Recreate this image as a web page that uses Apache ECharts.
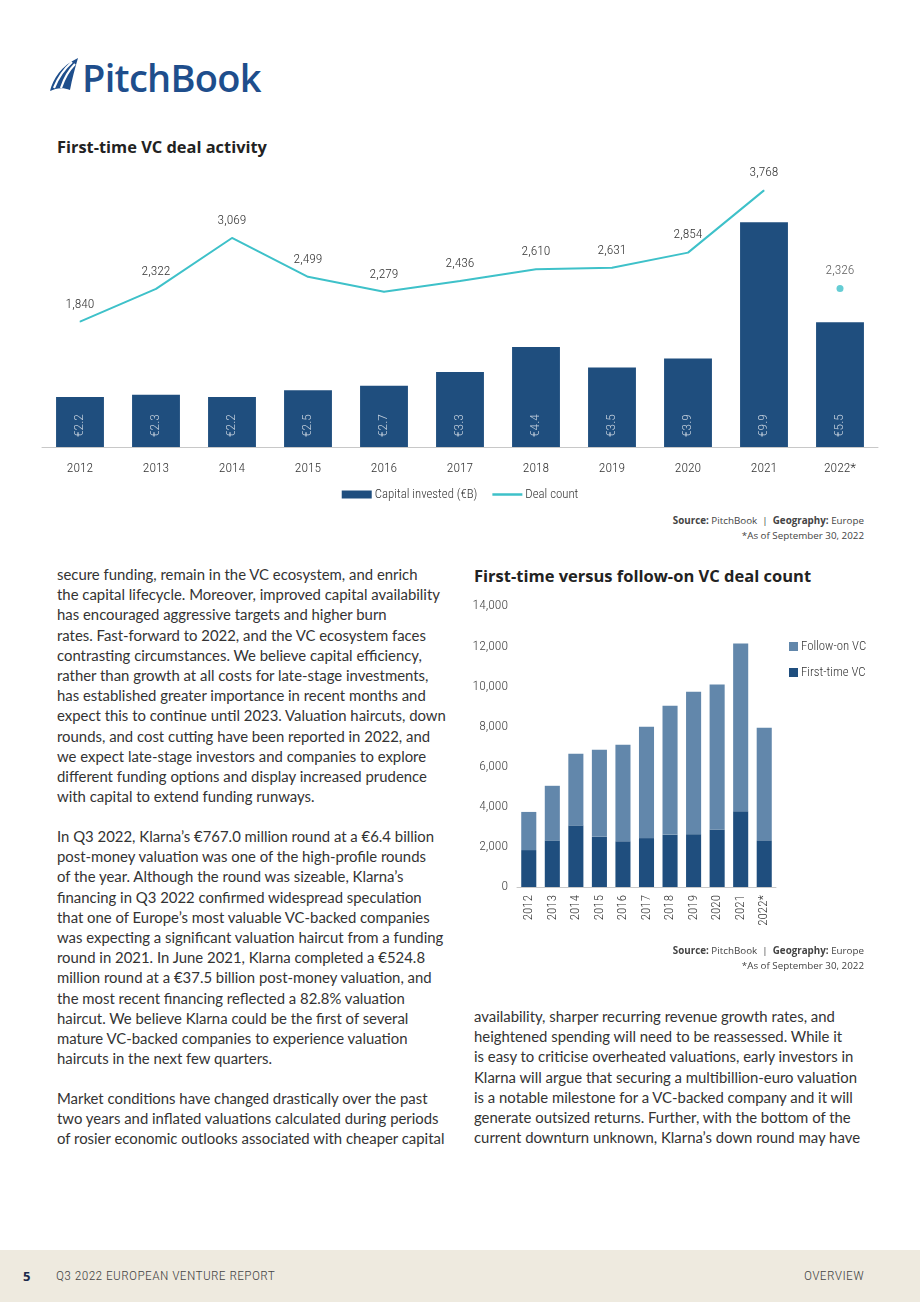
<!DOCTYPE html>
<html><head><meta charset="utf-8">
<script src="https://cdn.jsdelivr.net/npm/echarts@6/dist/echarts.min.js"></script>
<style>
html,body{margin:0;padding:0;background:#fff;}
body{width:920px;height:1302px;position:relative;overflow:hidden;font-family:Lato,"Open Sans",sans-serif;color:#333;}
.abs{position:absolute;}
.col{position:absolute;font-size:14.9px;line-height:20.18px;white-space:nowrap;color:#333;}
.src{position:absolute;right:56px;font-size:9.8px;color:#444;text-align:right;line-height:15px;font-family:"Open Sans",sans-serif;}
.title{position:absolute;font-weight:bold;color:#222;font-family:"Open Sans",sans-serif;white-space:nowrap;}
#footer{position:absolute;left:0;top:1250px;width:920px;height:52px;background:#eeeadf;}
.ft{position:absolute;top:17px;font-size:13.6px;letter-spacing:0.35px;font-weight:300;color:#444;font-family:"Roboto Condensed",Roboto,sans-serif;}
</style></head>
<body>
<svg class="abs" style="left:48px;top:57px" width="34" height="36" viewBox="0 0 34 36">
  <path d="M2 34 C5 22 13 9 30 1 C27 11 24 22 22 33 C15 30 8 31 2 34 Z" fill="#1e4e8c"/>
  <path d="M6 31 C10 21 16 12 24 5" stroke="#fff" stroke-width="2.2" fill="none"/>
  <path d="M13 31 C16 22 20 14 27 7" stroke="#fff" stroke-width="2.2" fill="none"/>
</svg>
<div class="abs" style="left:82px;top:51px;font-family:'Open Sans',sans-serif;font-size:38px;font-weight:600;color:#1e4e8c;letter-spacing:-0.7px;">PitchBook</div>

<div class="title" style="left:57px;top:135px;font-size:16.4px;">First-time VC deal activity</div>
<div id="c1" class="abs" style="left:0;top:0;width:920px;height:510px;"></div>
<div class="src" style="top:513px;"><b>Source:</b> PitchBook &nbsp;|&nbsp; <b>Geography:</b> Europe<br>*As of September 30, 2022</div>

<div class="col" style="left:57px;top:564px;">secure funding, remain in the VC ecosystem, and enrich<br>the capital lifecycle. Moreover, improved capital availability<br>has encouraged aggressive targets and higher burn<br>rates. Fast-forward to 2022, and the VC ecosystem faces<br>contrasting circumstances. We believe capital efficiency,<br>rather than growth at all costs for late-stage investments,<br>has established greater importance in recent months and<br>expect this to continue until 2023. Valuation haircuts, down<br>rounds, and cost cutting have been reported in 2022, and<br>we expect late-stage investors and companies to explore<br>different funding options and display increased prudence<br>with capital to extend funding runways.</div>
<div class="col" style="left:57px;top:826px;">In Q3 2022, Klarna’s €767.0 million round at a €6.4 billion<br>post-money valuation was one of the high-profile rounds<br>of the year. Although the round was sizeable, Klarna’s<br>financing in Q3 2022 confirmed widespread speculation<br>that one of Europe’s most valuable VC-backed companies<br>was expecting a significant valuation haircut from a funding<br>round in 2021. In June 2021, Klarna completed a €524.8<br>million round at a €37.5 billion post-money valuation, and<br>the most recent financing reflected a 82.8% valuation<br>haircut. We believe Klarna could be the first of several<br>mature VC-backed companies to experience valuation<br>haircuts in the next few quarters.</div>
<div class="col" style="left:57px;top:1088px;">Market conditions have changed drastically over the past<br>two years and inflated valuations calculated during periods<br>of rosier economic outlooks associated with cheaper capital</div>
<div class="col" style="left:474px;top:1006px;">availability, sharper recurring revenue growth rates, and<br>heightened spending will need to be reassessed. While it<br>is easy to criticise overheated valuations, early investors in<br>Klarna will argue that securing a multibillion-euro valuation<br>is a notable milestone for a VC-backed company and it will<br>generate outsized returns. Further, with the bottom of the<br>current downturn unknown, Klarna’s down round may have</div>

<div class="title" style="left:474px;top:564px;font-size:16.5px;">First-time versus follow-on VC deal count</div>
<div id="c2" class="abs" style="left:460px;top:560px;width:460px;height:400px;"></div>
<div class="src" style="top:943px;"><b>Source:</b> PitchBook &nbsp;|&nbsp; <b>Geography:</b> Europe<br>*As of September 30, 2022</div>

<div id="footer">
  <div class="abs" style="left:23px;top:17px;font-size:13px;font-weight:bold;color:#1b2a4a;font-family:'Open Sans',sans-serif;">5</div>
  <div class="ft" style="left:56px;">Q3 2022 EUROPEAN VENTURE REPORT</div>
  <div class="ft" style="right:56px;">OVERVIEW</div>
</div>

<script>
// ---- data ----
const years = ['2012','2013','2014','2015','2016','2017','2018','2019','2020','2021','2022*'];
const capitalInvested = [2.2, 2.3, 2.2, 2.5, 2.7, 3.3, 4.4, 3.5, 3.9, 9.9, 5.5];
const dealCountLine = [1840, 2322, 3069, 2499, 2279, 2436, 2610, 2631, 2854, 3768, null];
const dealCount2022 = [null, null, null, null, null, null, null, null, null, null, 2326];
const firstTimeVC = [1840, 2322, 3069, 2499, 2279, 2436, 2610, 2631, 2854, 3768, 2326];
const followOnVC = [1900, 2720, 3570, 4340, 4810, 5550, 6420, 7100, 7230, 8360, 5610];

const FONT = '"Roboto Condensed", Roboto, sans-serif';
const FW = 300;
const navy = '#1f4e7e', teal = '#3ec1c9', steel = '#6287ab';
const fmt = v => v.toLocaleString('en-US');
const ts = (size, color) => ({fontFamily:FONT, fontWeight:FW, fontSize:size, color:color});

function render(){
const c1 = echarts.init(document.getElementById('c1'), null, {renderer:'canvas'});
c1.setOption({
  animation:false,
  textStyle:{fontFamily:FONT, fontWeight:FW},
  grid:{left:42, right:42, top:140.5, bottom:63},
  legend:{
    bottom:4, left:'center', itemGap:15, itemWidth:30, itemHeight:8,
    textStyle:Object.assign(ts(12.8,'#333'), {padding:[0,0,0,-2]}),
    data:[{name:'Capital invested (€B)', icon:'rect'},
          {name:'Deal count', icon:'path://M0,0 L30,0 L30,2.5 L0,2.5 Z', itemStyle:{color:teal}}]
  },
  xAxis:{type:'category', data:years,
    axisLine:{lineStyle:{color:'#c8c8c8', width:1}}, axisTick:{show:false},
    axisLabel:Object.assign(ts(13.5,'#333'), {margin:15})},
  yAxis:[
    {type:'value', min:0, max:13.5, show:false, splitLine:{show:false}},
    {type:'value', min:0, max:4500, show:false, splitLine:{show:false}}
  ],
  series:[
    {name:'Capital invested (€B)', type:'bar', data:capitalInvested, barWidth:'63%',
      itemStyle:{color:navy},
      label:Object.assign(ts(13.5,'#c3cfdc'), {show:true, position:'insideBottom', rotate:90, align:'left', verticalAlign:'middle', distance:10,
        formatter:p=>'€'+p.value.toFixed(1)})},
    {name:'Deal count', type:'line', yAxisIndex:1, data:dealCountLine, symbol:'circle', symbolSize:1, showSymbol:true, connectNulls:false,
      lineStyle:{color:teal, width:2}, itemStyle:{color:teal},
      label:Object.assign(ts(13.5,'#333'), {show:true, position:'top', distance:10,
        formatter:p=>p.value==null?'':fmt(p.value)})},
    {name:'Deal count', type:'scatter', yAxisIndex:1, data:dealCount2022, symbolSize:7,
      itemStyle:{color:teal},
      label:Object.assign(ts(13.5,'#333'), {show:true, position:'top', distance:7,
        formatter:p=>p.value==null?'':fmt(p.value)})}
  ]
});

const c2 = echarts.init(document.getElementById('c2'), null, {renderer:'canvas'});
c2.setOption({
  animation:false,
  textStyle:{fontFamily:FONT, fontWeight:FW},
  grid:{left:57, right:144, top:46, bottom:73},
  legend:{
    orient:'vertical', left:329, top:80, padding:0, itemGap:13, itemWidth:9, itemHeight:9,
    textStyle:Object.assign(ts(12.8,'#333'), {padding:[0,0,0,-2]}),
    data:[{name:'Follow-on VC', icon:'rect'}, {name:'First-time VC', icon:'rect'}]
  },
  xAxis:{type:'category', data:years,
    axisLine:{lineStyle:{color:'#c8c8c8', width:1}}, axisTick:{show:false},
    axisLabel:Object.assign(ts(13,'#333'), {rotate:90, margin:8, interval:0})},
  yAxis:{type:'value', min:0, max:14000, interval:2000,
    axisLine:{show:false}, axisTick:{show:false}, splitLine:{show:false},
    axisLabel:Object.assign(ts(13.5,'#444'), {margin:9, formatter:v=>fmt(v)})},
  series:[
    {name:'First-time VC', type:'bar', stack:'t', data:firstTimeVC, barWidth:'64%', itemStyle:{color:navy}},
    {name:'Follow-on VC', type:'bar', stack:'t', data:followOnVC, barWidth:'64%', itemStyle:{color:steel}}
  ]
});
}
Promise.race([
  Promise.all([document.fonts.load('300 13px "Roboto Condensed"'), document.fonts.load('300 13px Roboto')]),
  new Promise(r=>setTimeout(r,1500))
]).then(render, render);
</script>
</body></html>
